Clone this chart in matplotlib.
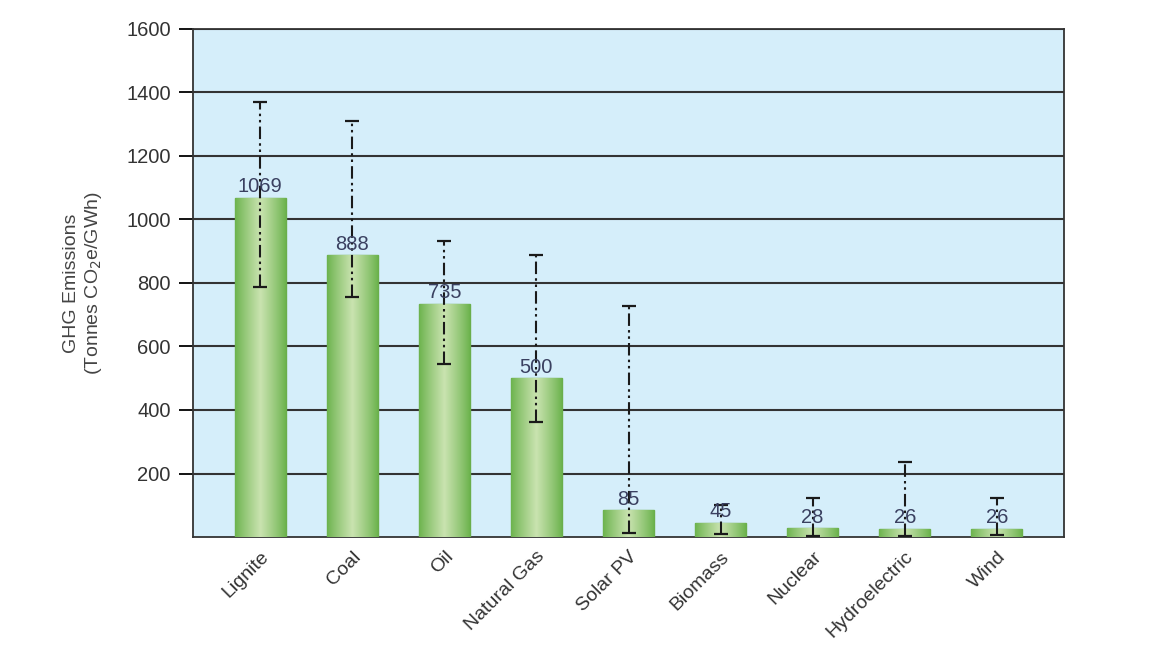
import matplotlib.pyplot as plt
import numpy as np

plt.rcParams['font.family'] = ['Liberation Sans', 'DejaVu Sans']

sources = ["Lignite", "Coal", "Oil", "Natural Gas", "Solar PV", "Biomass",
           "Nuclear", "Hydroelectric", "Wind"]
emissions = [1069, 888, 735, 500, 85, 45, 28, 26, 26]
range_low = [788, 755, 545, 362, 13, 10, 2, 2, 6]
range_high = [1370, 1310, 932, 888, 727, 100, 122, 235, 122]

fig = plt.figure(figsize=(11.64, 6.51), dpi=100)
ax = fig.add_axes([0.1658, 0.1751, 0.7483, 0.7804])
ax.set_facecolor("#d5eefa")

x = np.arange(len(sources))
width = 0.55
bars = ax.bar(x, emissions, width, color="#72b552", edgecolor="#6aae4b",
              linewidth=1.0, zorder=3)

# horizontal gradient: dark edges, light middle
t = np.linspace(0, 1, 256)
shade = 1 - np.abs(t - 0.5) / 0.5
shade = np.clip(shade, 0, 1) ** 0.9
dark = np.array([0.42, 0.70, 0.30])
light = np.array([0.79, 0.89, 0.69])
grad = dark[None, :] + (light - dark)[None, :] * shade[:, None]
grad = grad[None, :, :]
for b in bars:
    x0, y0 = b.get_x(), b.get_y()
    w, h = b.get_width(), b.get_height()
    im = ax.imshow(grad, extent=[x0, x0 + w, y0, y0 + h], aspect="auto",
                   zorder=4, interpolation="bilinear")
    im.set_clip_path(b)

yerr = [np.array(emissions) - np.array(range_low),
        np.array(range_high) - np.array(emissions)]
eb = ax.errorbar(x, emissions, yerr=yerr, fmt="none", ecolor="#1a1a1a",
                 elinewidth=1.5, capsize=5, capthick=1.6, zorder=6)
for lc in eb[2]:
    lc.set_linestyle((0, (6, 2, 1.2, 1.8, 1.2, 2)))

for xi, v in zip(x, emissions):
    ax.text(xi, v + 4, str(v), ha="center", va="bottom", fontsize=14.5,
            color="#3a4060", zorder=7)

ax.set_xlim(-0.73, 8.73)
ax.set_ylim(0, 1600)
ax.set_yticks(range(200, 1601, 200))
ax.yaxis.grid(True, color="#333333", linewidth=1.5, zorder=1)
ax.set_axisbelow(True)
ax.set_xticks(x)
ax.set_xticklabels(sources, rotation=45, ha="right", rotation_mode="anchor",
                   fontsize=14, color="#333333")
ax.tick_params(axis="x", length=0, pad=8)
ax.tick_params(axis="y", length=10, width=1.3, labelsize=14.5,
               labelcolor="#333333", pad=6)
for s in ax.spines.values():
    s.set_color("#333333")
    s.set_linewidth(1.3)

ax.set_ylabel("GHG Emissions\n(Tonnes CO$_2$e/GWh)", fontsize=14,
              color="#444444", labelpad=16)

fig.savefig("out.png", dpi=100)
